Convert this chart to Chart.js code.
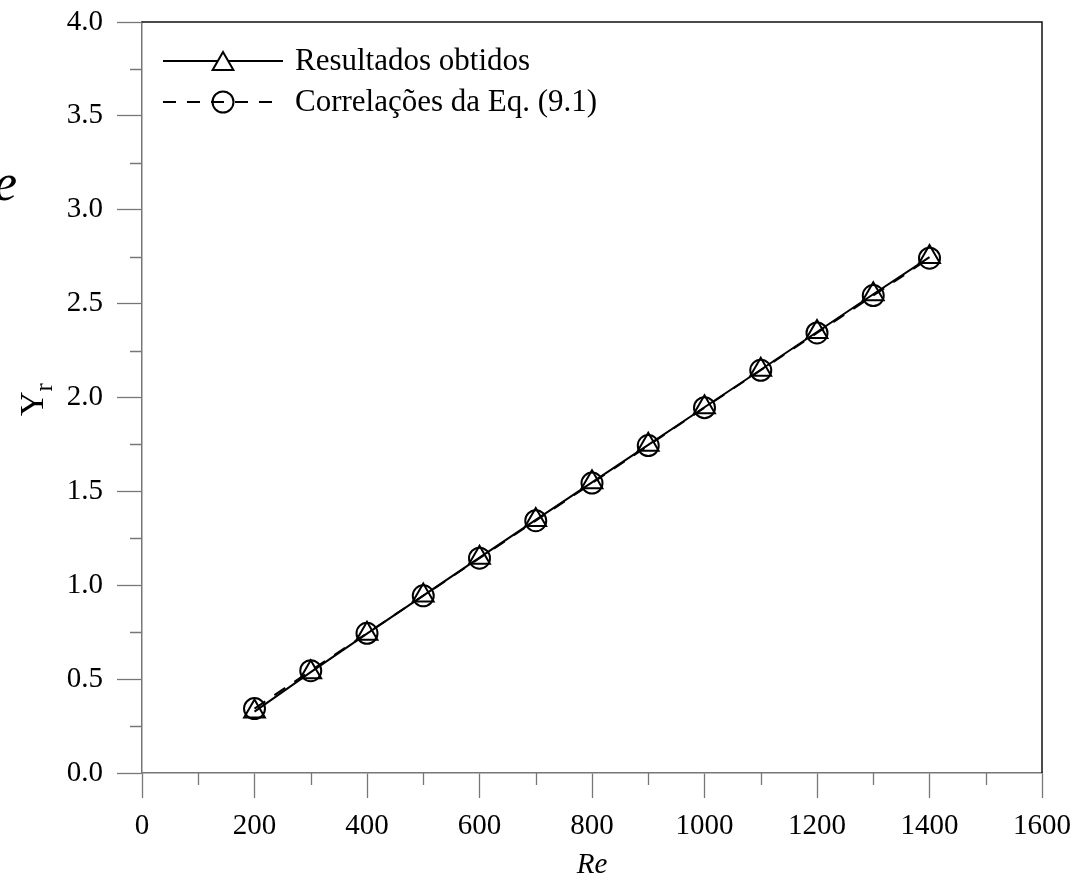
<!DOCTYPE html>
<html>
<head>
<meta charset="utf-8">
<script src="https://cdn.jsdelivr.net/npm/chart.js@4.4.1/dist/chart.umd.min.js"></script>
<style>
  html, body { margin: 0; padding: 0; background: #fff; overflow: hidden; }
  #wrap { position: relative; width: 1077px; height: 880px; }
  #cut { position: absolute; left: -6px; top: 157px; font: italic 52px 'Liberation Serif', 'Times New Roman', serif; line-height: 1; color: #000; }
</style>
</head>
<body>
<div id="wrap">
  <canvas id="chart"></canvas>
  <span id="cut">e</span>
</div>
<script>
const SERIF = "'Liberation Serif', 'Times New Roman', serif";

// Reynolds numbers (x) and Y_r values
const RE = [200, 300, 400, 500, 600, 700, 800, 900, 1000, 1100, 1200, 1300, 1400];
const RESULTADOS = [0.327, 0.537, 0.742, 0.945, 1.147, 1.348, 1.548, 1.748, 1.948, 2.148, 2.349, 2.550, 2.748];
const CORRELACOES = [0.343, 0.545, 0.744, 0.944, 1.144, 1.344, 1.544, 1.744, 1.946, 2.145, 2.344, 2.543, 2.742];

const X_TICKS = [0, 200, 400, 600, 800, 1000, 1200, 1400, 1600];
const X_MINOR = [100, 300, 500, 700, 900, 1100, 1300, 1500];
const Y_TICKS = [0, 0.5, 1.0, 1.5, 2.0, 2.5, 3.0, 3.5, 4.0];
const Y_MINOR = [0.25, 0.75, 1.25, 1.75, 2.25, 2.75, 3.25, 3.75];

const AXIS_GREY = '#777';

// short minor ticks + top/right frame + Y_r title
const frame = {
  id: 'frame',
  afterDraw(chart) {
    const { ctx, chartArea: a, scales: { x, y } } = chart;
    ctx.save();
    ctx.strokeStyle = AXIS_GREY;
    ctx.lineWidth = 1.3;
    ctx.beginPath();
    X_MINOR.forEach(v => {
      const px = Math.round(x.getPixelForValue(v)) + 0.5;
      ctx.moveTo(px, a.bottom); ctx.lineTo(px, a.bottom + 12);
    });
    Y_MINOR.forEach(v => {
      const py = Math.round(y.getPixelForValue(v)) + 0.5;
      ctx.moveTo(a.left, py); ctx.lineTo(a.left - 12, py);
    });
    ctx.stroke();

    ctx.strokeStyle = '#111';
    ctx.lineWidth = 1.5;
    ctx.beginPath();
    ctx.moveTo(a.left, a.top); ctx.lineTo(a.right, a.top); ctx.lineTo(a.right, a.bottom);
    ctx.stroke();

    // rotated "Y" with subscript "r"
    ctx.translate(43, (a.top + a.bottom) / 2 + 2);
    ctx.rotate(-Math.PI / 2);
    ctx.fillStyle = '#000';
    ctx.textBaseline = 'alphabetic';
    ctx.font = `34px ${SERIF}`;
    const wY = ctx.measureText('Y').width;
    ctx.font = `25px ${SERIF}`;
    const wr = ctx.measureText('r').width;
    const start = -(wY + wr) / 2;
    ctx.font = `34px ${SERIF}`;
    ctx.fillText('Y', start, 0);
    ctx.font = `25px ${SERIF}`;
    ctx.fillText('r', start + wY, 9);
    ctx.restore();
  }
};

// legend inside the plot: line sample with the marker in the middle
const insetLegend = {
  id: 'insetLegend',
  afterDraw(chart) {
    const { ctx, chartArea: a } = chart;
    chart.data.datasets.forEach((ds, i) => {
      const y = a.top + 39 + i * 41;
      const x0 = a.left + 21, x1 = x0 + 120;
      ctx.save();
      ctx.strokeStyle = ds.borderColor;
      ctx.lineWidth = ds.borderWidth;
      ctx.setLineDash(ds.borderDash || []);
      ctx.beginPath(); ctx.moveTo(x0, y); ctx.lineTo(x1, y); ctx.stroke();
      ctx.setLineDash([]);
      ctx.fillStyle = ds.legendFill;
      ctx.strokeStyle = ds.pointBorderColor;
      ctx.lineWidth = ds.pointBorderWidth;
      Chart.helpers.drawPoint(ctx, {
        pointStyle: ds.pointStyle, radius: ds.pointRadius, rotation: 0, borderWidth: ds.pointBorderWidth
      }, (x0 + x1) / 2, y + ds.legendShift);
      ctx.fillStyle = '#000';
      ctx.font = `31px ${SERIF}`;
      ctx.textBaseline = 'middle';
      ctx.fillText(ds.label, x1 + 12, y + 1);
      ctx.restore();
    });
  }
};

const noPad = s => { s.paddingTop = 0; s.paddingBottom = 0; s.paddingLeft = 0; s.paddingRight = 0; };

new Chart(document.getElementById('chart'), {
  type: 'line',
  data: {
    datasets: [
      {
        label: 'Resultados obtidos',
        data: RE.map((r, i) => ({ x: r, y: RESULTADOS[i] })),
        borderColor: '#000', borderWidth: 2, borderDash: [],
        pointStyle: 'triangle', pointRadius: 12, pointBorderWidth: 2,
        pointBorderColor: '#000', pointBackgroundColor: 'rgba(0,0,0,0)',
        legendFill: '#fff', legendShift: 3,
        tension: 0
      },
      {
        label: 'Correlações da Eq. (9.1)',
        data: RE.map((r, i) => ({ x: r, y: CORRELACOES[i] })),
        borderColor: '#000', borderWidth: 2, borderDash: [13, 11],
        pointStyle: 'circle', pointRadius: 10.5, pointBorderWidth: 2,
        pointBorderColor: '#000', pointBackgroundColor: 'rgba(0,0,0,0)',
        legendFill: 'rgba(0,0,0,0)', legendShift: 0,
        tension: 0
      }
    ]
  },
  options: {
    responsive: true,
    maintainAspectRatio: false,
    animation: false,
    layout: { padding: { top: 22, right: 35, left: 0, bottom: 0 } },
    plugins: { legend: { display: false }, tooltip: { enabled: false } },
    scales: {
      x: {
        type: 'linear', min: 0, max: 1600,
        afterBuildTicks: s => { s.ticks = X_TICKS.map(v => ({ value: v })); },
        afterFit: s => { s.height = 107; noPad(s); },
        ticks: { color: '#000', padding: 11, maxRotation: 0, callback: v => String(v),
                 font: { family: SERIF, size: 29 } },
        grid: { drawOnChartArea: false, tickLength: 25, tickColor: AXIS_GREY, tickWidth: 1.3 },
        border: { color: AXIS_GREY, width: 1.5 },
        title: { display: true, text: 'Re', color: '#000', padding: { top: 0, bottom: -3 },
                 font: { family: SERIF, size: 29, style: 'italic' } }
      },
      y: {
        type: 'linear', min: 0, max: 4,
        afterBuildTicks: s => { s.ticks = Y_TICKS.map(v => ({ value: v })); },
        afterFit: s => { s.width = 142; noPad(s); },
        ticks: { color: '#000', padding: 14, callback: v => v.toFixed(1), font: { family: SERIF, size: 29 } },
        grid: { drawOnChartArea: false, tickLength: 25, tickColor: AXIS_GREY, tickWidth: 1.3 },
        border: { color: AXIS_GREY, width: 1.5 }
      }
    }
  },
  plugins: [frame, insetLegend]
});
</script>
</body>
</html>
